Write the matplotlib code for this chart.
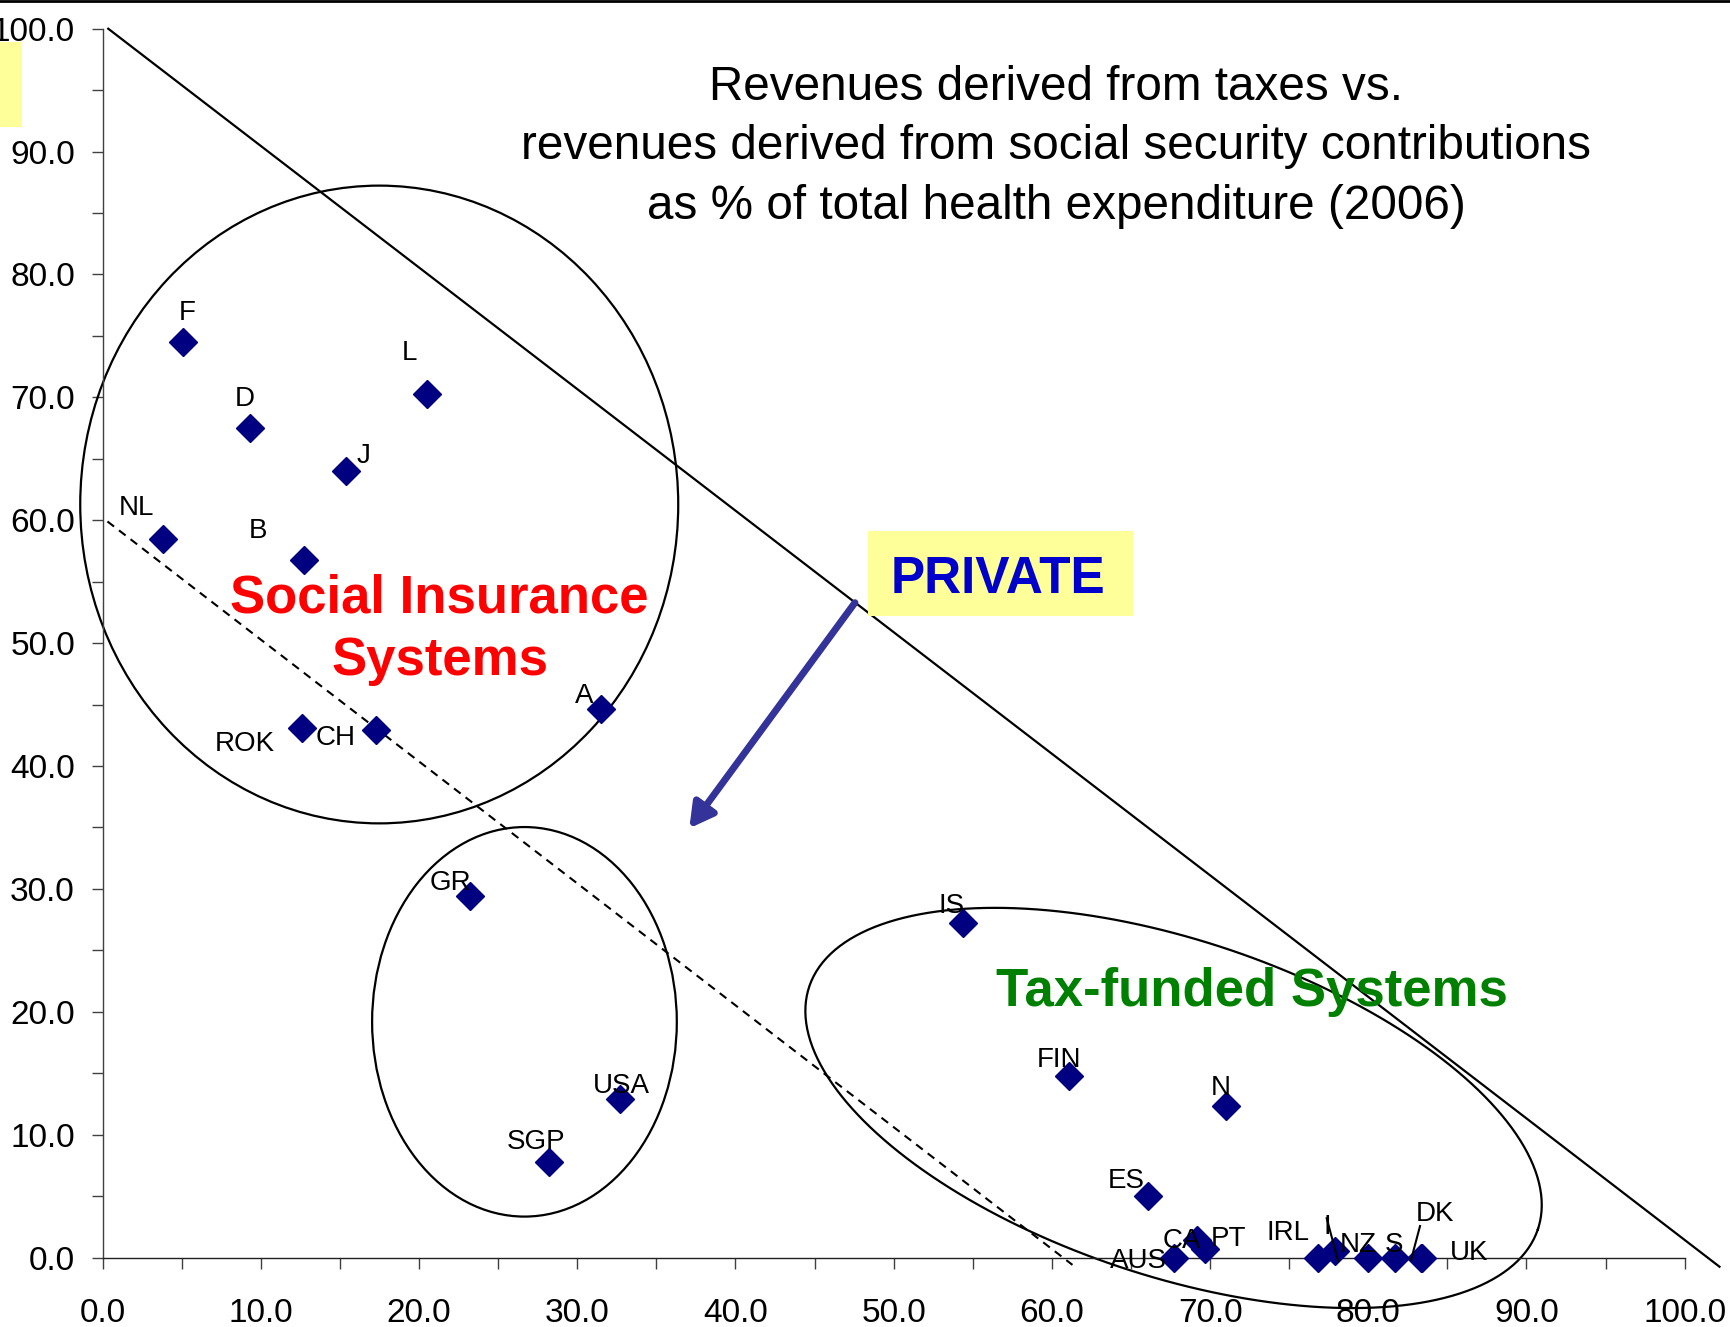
import numpy as np
import matplotlib
matplotlib.use("Agg")
import matplotlib.pyplot as plt
from matplotlib.patches import Ellipse, Rectangle
from matplotlib.lines import Line2D
from matplotlib.ticker import MultipleLocator, FormatStrFormatter

plt.rcParams['font.family'] = ['Liberation Sans', 'DejaVu Sans']

# tax share (x) vs social security share (y) of total health expenditure, 2006
countries = ["F", "D", "L", "J", "NL", "B", "ROK", "CH", "A",
             "GR", "USA", "SGP",
             "IS", "FIN", "N", "ES", "AUS", "CA", "PT", "IRL", "I", "NZ", "S", "DK", "UK"]
taxes = [5.1, 9.3, 20.5, 15.4, 3.8, 12.7, 12.6, 17.3, 31.5,
         23.2, 32.7, 28.2,
         54.4, 61.1, 71.0, 66.1, 67.7, 69.2, 69.7, 76.8, 77.9, 80.0, 81.7, 83.3, 83.4]
social_sec = [74.5, 67.5, 70.3, 64.0, 58.5, 56.8, 43.1, 42.9, 44.6,
              29.4, 12.9, 7.8,
              27.2, 14.8, 12.3, 5.0, 0.0, 1.4, 0.7, 0.0, 0.5, 0.0, 0.0, 0.0, 0.0]

# label offsets in points (dx, dy)
label_off = {
    "F": (2.7, 20.7), "D": (-3.7, 20.7), "L": (-13, 29.5), "J": (12.6, 10.7),
    "NL": (-19.3, 22.2), "B": (-32.6, 20.2), "ROK": (-41, -11.4), "CH": (-29.5, -5.3),
    "A": (-12.2, 9.6), "GR": (-13.8, 9.6), "USA": (1.3, 9.4), "SGP": (-9.1, 14.3),
    "IS": (-8.8, 12.7), "FIN": (-7.2, 11), "N": (-3.9, 12.9), "ES": (-15.8, 10.7),
    "AUS": (-25.2, -2.5), "CA": (-11.3, -0.7), "PT": (16.6, 7.1), "IRL": (-21.3, 18),
    "I": (-5.3, 17.5), "NZ": (-7.4, 8.9), "S": (-1.2, 8.9), "DK": (10.1, 31.3),
    "UK": (34, 2.9),
}

fig = plt.figure(figsize=(17.31, 13.27), dpi=100)
ax = fig.add_axes([0.05933, 0.05237, 0.91392, 0.92600])
ax.set_xlim(0, 100)
ax.set_ylim(0, 100)

for s in ["top", "right"]:
    ax.spines[s].set_visible(False)
ax.spines["left"].set_color("#404040")
ax.spines["bottom"].set_color("#202020")
ax.spines["left"].set_linewidth(1.0)
ax.spines["bottom"].set_linewidth(1.0)

ax.xaxis.set_major_locator(MultipleLocator(10))
ax.yaxis.set_major_locator(MultipleLocator(10))
ax.xaxis.set_minor_locator(MultipleLocator(5))
ax.yaxis.set_minor_locator(MultipleLocator(5))
ax.xaxis.set_major_formatter(FormatStrFormatter("%.1f"))
ax.yaxis.set_major_formatter(FormatStrFormatter("%.1f"))
ax.tick_params(axis="both", which="both", direction="out", length=8, width=1,
               color="#404040", labelsize=24)
ax.tick_params(axis="x", which="major", pad=21)
ax.tick_params(axis="y", which="major", pad=12)

# reference lines
ax.plot([0.35, 102.2], [100.0, -0.75], color="black", lw=1.6, clip_on=False, zorder=2)
ax.plot([0.3, 61.3], [59.9, -0.6], color="black", lw=1.5, ls=(0, (4, 3)),
        clip_on=False, zorder=2)

# group ellipses
ax.add_patch(Ellipse((17.48, 61.28), 37.8, 51.9, fill=False, ec="black", lw=1.6,
                     clip_on=False, zorder=2))
ax.add_patch(Ellipse((26.66, 19.18), 19.26, 31.7, fill=False, ec="black", lw=1.6,
                     clip_on=False, zorder=2))
sx = ax.bbox.width / 100.0
sy = ax.bbox.height / 100.0
t = np.linspace(0, 2 * np.pi, 400)
a_px, b_px, th = 384.0, 167.8, np.radians(18.4)
ex = 67.69 + (a_px * np.cos(t) * np.cos(th) - b_px * np.sin(t) * np.sin(th)) / sx
ey = 12.17 - (a_px * np.cos(t) * np.sin(th) + b_px * np.sin(t) * np.cos(th)) / sy
ax.plot(ex, ey, color="black", lw=1.6, clip_on=False, zorder=2)

# points
ax.plot(taxes, social_sec, ls="none", marker="D", ms=14, color="#000080",
        mec="#000080", clip_on=False, zorder=3)

for name, x, y in zip(countries, taxes, social_sec):
    dx, dy = label_off[name]
    ax.annotate(name, (x, y), xytext=(dx, dy), textcoords="offset points",
                ha="center", va="center", fontsize=20, color="black", zorder=5)

# leader lines for I and DK
ax.plot([77.37, 78.1], [3.19, -0.3], color="black", lw=1.5, clip_on=False, zorder=4)
ax.plot([83.27, 82.7], [2.56, -0.2], color="black", lw=1.5, clip_on=False, zorder=4)

# group names
ax.text(21.3, 52.45, "Social Insurance", color="#FF0000", fontsize=38,
        fontweight="bold", ha="center", va="baseline", zorder=5)
ax.text(21.3, 47.4, "Systems", color="#FF0000", fontsize=38,
        fontweight="bold", ha="center", va="baseline", zorder=5)
ax.text(72.65, 20.45, "Tax-funded Systems", color="#008000", fontsize=38,
        fontweight="bold", ha="center", va="baseline", zorder=5)

# PRIVATE box and arrow
ax.add_patch(Rectangle((48.38, 52.2), 16.75, 6.92, color="#FFFF99", lw=0,
                       zorder=4))
ax.text(56.62, 54.05, "PRIVATE", color="#0000CC", fontsize=37, fontweight="bold",
        ha="center", va="baseline", zorder=5)
ax.annotate("", xy=(37.08, 34.93), xytext=(47.55, 53.29),
            arrowprops=dict(arrowstyle="-|>,head_length=0.45,head_width=0.25",
                            lw=5, color="#333399", mutation_scale=32,
                            shrinkA=0, shrinkB=0), zorder=4)

# title
title_lines = ["Revenues derived from taxes vs.",
               "revenues derived from social security contributions",
               "as % of total health expenditure (2006)"]
for i, line in enumerate(title_lines):
    base_px = 99.8 + i * 59.6
    fig.text(1056 / 1731, 1 - base_px / 1327, line, fontsize=34.3,
             ha="center", va="baseline")

# slide decorations
fig.add_artist(Line2D([0, 1], [0.9992, 0.9992], color="black", lw=2))
fig.add_artist(Rectangle((0, 1 - 127 / 1327), 22 / 1731, 85 / 1327,
                         color="#FFFF99", lw=0))

fig.savefig("out.png", dpi=100)
